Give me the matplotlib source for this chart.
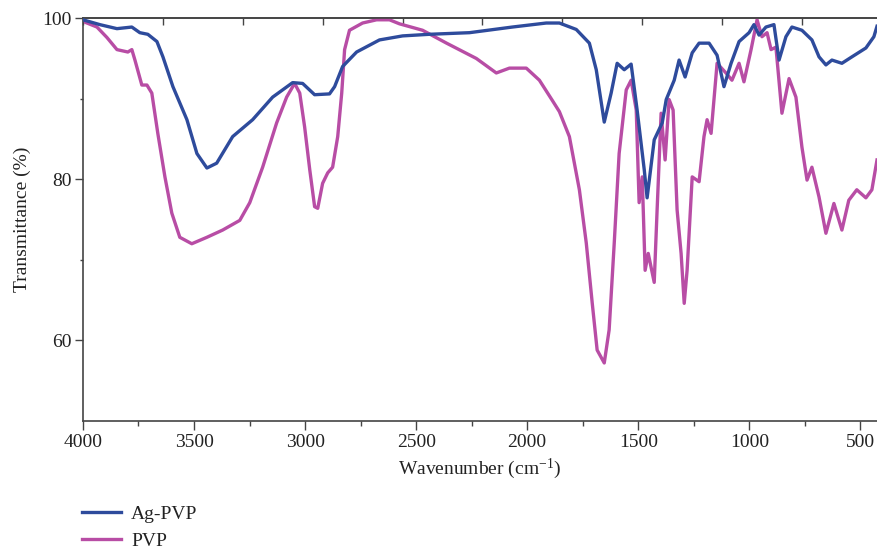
import numpy as np
import matplotlib
matplotlib.use("Agg")
import matplotlib.pyplot as plt
from matplotlib.ticker import MultipleLocator, NullFormatter, FixedLocator

plt.rcParams["font.family"] = ["Liberation Serif", "DejaVu Serif"]
plt.rcParams["mathtext.fontset"] = "custom"
plt.rcParams["mathtext.rm"] = "Liberation Serif"
plt.rcParams["mathtext.it"] = "Liberation Serif:italic"

# FTIR spectra (wavenumber cm-1, transmittance %)
wn_ag = [4000, 3924, 3847, 3780, 3744, 3708, 3667, 3640, 3595, 3532,
         3487, 3442, 3398, 3326, 3236, 3146, 3056, 3011, 2957, 2890,
         2867, 2831, 2768, 2665, 2561, 2440, 2260, 2067, 1914, 1855,
         1779, 1720, 1689, 1653, 1622, 1595, 1563, 1532, 1505, 1473,
         1460, 1428, 1392, 1374, 1338, 1316, 1289, 1257, 1226, 1181,
         1145, 1114, 1082, 1046, 1001, 979, 956, 925, 889, 866,
         835, 808, 763, 718, 686, 655, 628, 583, 538, 475,
         439, 425]
t_ag = [99.8, 99.2, 98.7, 98.9, 98.2, 98.0, 97.1, 95.2, 91.5, 87.4,
        83.2, 81.4, 82.0, 85.3, 87.4, 90.2, 92.0, 91.9, 90.5, 90.6,
        91.5, 94.0, 95.8, 97.3, 97.8, 98.0, 98.2, 98.9, 99.4, 99.4,
        98.6, 96.9, 93.6, 87.1, 90.7, 94.4, 93.6, 94.3, 88.6, 81.2,
        77.7, 84.9, 87.0, 89.9, 92.3, 94.8, 92.7, 95.7, 96.9, 96.9,
        95.4, 91.5, 94.4, 97.1, 98.2, 99.2, 97.9, 98.9, 99.2, 94.8,
        97.7, 98.9, 98.5, 97.3, 95.2, 94.2, 94.8, 94.4, 95.2, 96.3,
        97.7, 99.0]

wn_pvp = [4000, 3991, 3937, 3892, 3847, 3798, 3780, 3766, 3735, 3712,
          3690, 3663, 3631, 3600, 3564, 3510, 3442, 3371, 3294, 3249,
          3191, 3128, 3083, 3047, 3024, 3002, 2979, 2957, 2943, 2921,
          2898, 2876, 2853, 2835, 2822, 2800, 2741, 2678, 2620, 2575,
          2471, 2363, 2229, 2139, 2080, 2004, 1945, 1887, 1855, 1810,
          1765, 1734, 1707, 1685, 1653, 1631, 1608, 1586, 1554, 1532,
          1509, 1496, 1482, 1469, 1455, 1428, 1415, 1397, 1379, 1361,
          1343, 1325, 1307, 1293, 1280, 1257, 1226, 1204, 1190, 1172,
          1145, 1105, 1078, 1046, 1024, 992, 965, 943, 920, 902,
          880, 853, 821, 790, 763, 740, 718, 686, 655, 619,
          583, 552, 516, 475, 448, 425]
t_pvp = [99.8, 99.5, 98.9, 97.6, 96.1, 95.8, 96.1, 94.8, 91.7, 91.7,
         90.7, 85.7, 80.3, 75.8, 72.8, 72.0, 72.8, 73.7, 74.9, 77.1,
         81.5, 87.0, 90.2, 91.9, 90.7, 86.5, 81.2, 76.6, 76.4, 79.5,
         80.8, 81.5, 85.3, 90.7, 96.1, 98.5, 99.4, 99.8, 99.8, 99.3,
         98.5, 96.9, 95.0, 93.2, 93.8, 93.8, 92.3, 89.8, 88.4, 85.3,
         78.7, 72.1, 64.6, 58.8, 57.2, 61.3, 72.1, 83.2, 91.1, 92.3,
         88.6, 77.1, 80.3, 68.7, 70.8, 67.2, 76.2, 88.2, 82.4, 89.9,
         88.6, 76.2, 70.8, 64.6, 68.7, 80.3, 79.7, 85.3, 87.4, 85.7,
         94.4, 93.2, 92.3, 94.4, 92.1, 96.1, 99.8, 97.7, 98.2, 96.1,
         96.4, 88.2, 92.5, 90.2, 84.0, 79.9, 81.5, 77.8, 73.3, 77.0,
         73.7, 77.4, 78.7, 77.7, 78.7, 82.4]

# top frame ticks in the original follow their own spacing
top_ticks = np.arange(4000, 425, -359.7)

blue = "#2E4B9C"
magenta = "#B84DA5"
spine_col = "#444444"
text_col = "#222222"

fig = plt.figure(figsize=(8.77, 5.51), dpi=100)
ax = fig.add_axes([0.0946, 0.236, 0.9054, 0.731])

ax.plot(wn_ag, t_ag, color=blue, lw=2.4, label="Ag-PVP", zorder=3)
ax.plot(wn_pvp, t_pvp, color=magenta, lw=2.4, label="PVP", zorder=2)

ax.set_xlim(4000, 425)
ax.set_ylim(50, 100)

ax.xaxis.set_major_locator(MultipleLocator(500))
ax.xaxis.set_minor_locator(MultipleLocator(250))
ax.yaxis.set_major_locator(FixedLocator([60, 80, 100]))
ax.yaxis.set_minor_locator(FixedLocator([70, 90]))

ax.spines["right"].set_visible(False)
for side in ["left", "bottom", "top"]:
    ax.spines[side].set_color(spine_col)
    ax.spines[side].set_linewidth(1.2)

ax.tick_params(axis="both", which="major", direction="out", length=6.5,
               width=1.0, color=spine_col, labelsize=14, labelcolor=text_col, pad=3)
ax.tick_params(axis="both", which="minor", direction="out", length=3.5,
               width=1.0, color=spine_col)
ax.tick_params(axis="y", which="major", length=6, pad=2)
ax.tick_params(axis="y", which="minor", length=2.5)

sec = ax.secondary_xaxis("top")
sec.set_xticks(top_ticks)
sec.xaxis.set_minor_locator(FixedLocator([]))
sec.xaxis.set_major_formatter(NullFormatter())
sec.tick_params(axis="x", which="major", direction="in", length=5, width=1.0,
                color=spine_col)
sec.spines["top"].set_color(spine_col)
sec.spines["top"].set_linewidth(1.2)

ax.set_xlabel("Wavenumber (cm$^{-1}$)", fontsize=14, color=text_col, labelpad=4)
ax.set_ylabel("Transmittance (%)", fontsize=14, color=text_col, labelpad=8)

fig.legend(loc="upper left", bbox_to_anchor=(0.094, 0.083), frameon=False,
           fontsize=14, handlelength=2.0, handletextpad=0.5, labelspacing=0.5,
           borderaxespad=0, borderpad=0, labelcolor=text_col)

fig.savefig("out.png", dpi=100)
